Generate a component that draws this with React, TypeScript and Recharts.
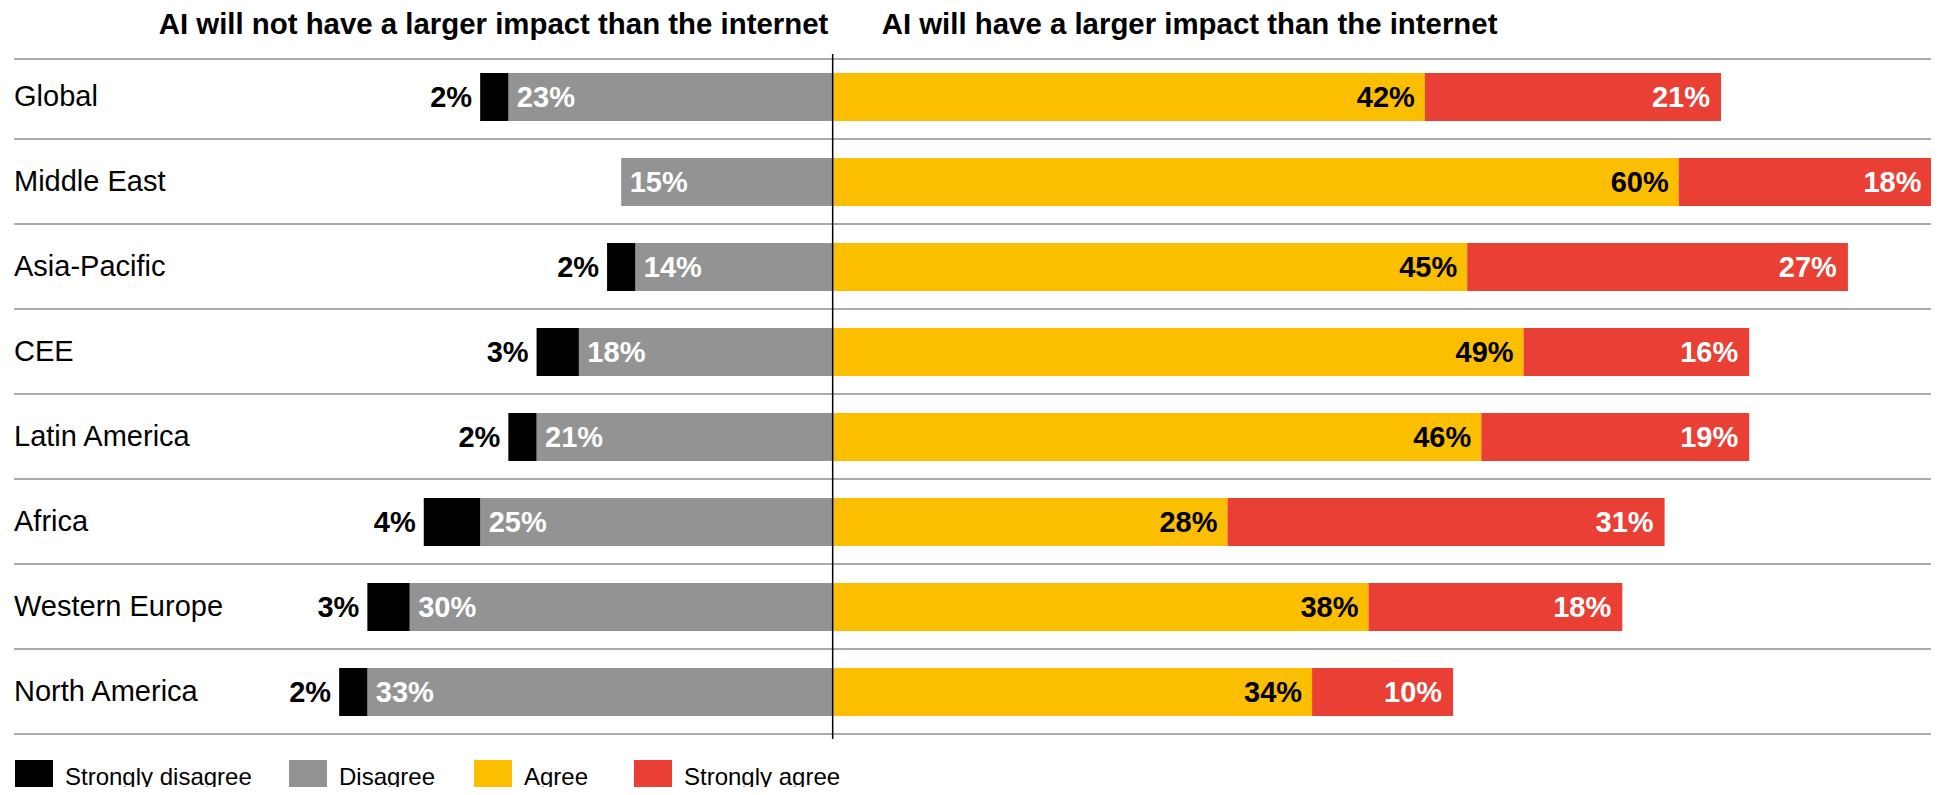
import React from "react";
import { BarChart, Bar, XAxis, YAxis, CartesianGrid, ReferenceLine, LabelList, Legend } from "recharts";

const regions = ["Global", "Middle East", "Asia-Pacific", "CEE", "Latin America", "Africa", "Western Europe", "North America"];
const stronglyDisagree = [2, 0, 2, 3, 2, 4, 3, 2];
const disagree = [23, 15, 14, 18, 21, 25, 30, 33];
const agree = [42, 60, 45, 49, 46, 28, 38, 34];
const stronglyAgree = [21, 18, 27, 16, 19, 31, 18, 10];

const leftTitle = "AI will not have a larger impact than the internet";
const rightTitle = "AI will have a larger impact than the internet";

const legendItems = [
  { name: "Strongly disagree", color: "#000000", width: 274 },
  { name: "Disagree", color: "#939393", width: 185 },
  { name: "Agree", color: "#FBBE00", width: 160 },
  { name: "Strongly agree", color: "#E93F35", width: 200 },
];

const FONT = '"Liberation Sans", Arial, Helvetica, sans-serif';
const LABEL_SIZE = 29;
const ROW_SIZE = 29;
const TITLE_SIZE = 29.4;

// left side is drawn as negative values so the stack diverges from 0
const data = regions.map((region, i) => ({
  region,
  stronglyDisagree: -stronglyDisagree[i],
  disagree: -disagree[i],
  agree: agree[i],
  stronglyAgree: stronglyAgree[i],
}));

const makeLabel = (side: "outsideLeft" | "insideLeft" | "insideRight", color: string, gap: number) => (props: any) => {
  const { x, y, width, height, value } = props;
  if (!value) return null;
  const x0 = Number(x);
  const w = Number(width);
  const left = Math.min(x0, x0 + w);
  const right = Math.max(x0, x0 + w);
  const cy = Number(y) + Number(height) / 2;
  let tx = right - gap;
  let anchor: "start" | "end" = "end";
  if (side === "outsideLeft") {
    tx = left - gap;
  } else if (side === "insideLeft") {
    tx = left + gap;
    anchor = "start";
  }
  return (
    <text x={tx} y={cy + 0.355 * LABEL_SIZE} textAnchor={anchor} fill={color} fontFamily={FONT} fontWeight="bold" fontSize={LABEL_SIZE}>
      {Math.abs(value)}%
    </text>
  );
};

const RegionTick = (props: any) => {
  const { x, y, payload } = props;
  return (
    <text x={x} y={Number(y) - 1 + 0.355 * ROW_SIZE} textAnchor="start" fill="#000" fontFamily={FONT} fontSize={ROW_SIZE}>
      {payload.value}
    </text>
  );
};

const CenterLine = (p: any) => (
  <line x1={p.x1} y1={Number(p.y1) + 5} x2={p.x2} y2={p.y2} stroke="#000" strokeWidth={1.5} />
);

const LegendContent = () => (
  <div style={{ display: "flex", fontFamily: FONT, fontSize: 24, color: "#000" }}>
    {legendItems.map((item) => (
      <div key={item.name} style={{ display: "flex", alignItems: "flex-start", width: item.width, flex: "none" }}>
        <div style={{ width: 38, height: 38, background: item.color, flex: "none" }} />
        <span style={{ marginLeft: 12, lineHeight: "34px", whiteSpace: "nowrap" }}>{item.name}</span>
      </div>
    ))}
  </div>
);

const titleStyle: React.CSSProperties = {
  position: "absolute",
  top: 1,
  fontFamily: FONT,
  fontWeight: "bold",
  fontSize: TITLE_SIZE,
  lineHeight: "30px",
  whiteSpace: "nowrap",
  color: "#000",
};

export default function App() {
  return (
    <div style={{ position: "relative", width: 1931, height: 787, overflow: "hidden", marginBottom: -8 }}>
      <BarChart
        width={1931}
        height={787}
        data={data}
        layout="vertical"
        stackOffset="sign"
        barSize={48}
        margin={{ top: 46, right: 0, bottom: 61, left: 5 }}
      >
        <CartesianGrid
          vertical={false}
          stroke="#ababab"
          strokeWidth={2}
          horizontalCoordinatesGenerator={({ offset }: any) => {
            const h = offset.height / regions.length;
            return [offset.top + 5, ...regions.map((_, i) => offset.top + h * (i + 1))];
          }}
        />
        <XAxis type="number" domain={[-58.06, 78.46]} allowDataOverflow hide />
        <YAxis
          type="category"
          dataKey="region"
          width={1}
          axisLine={false}
          tickLine={false}
          tickSize={0}
          tickMargin={0}
          interval={0}
          tick={RegionTick}
        />
        <Bar dataKey="disagree" name="Disagree" stackId="a" fill="#939393" isAnimationActive={false}>
          <LabelList dataKey="disagree" content={makeLabel("insideLeft", "#ffffff", 8.5)} />
        </Bar>
        <Bar dataKey="stronglyDisagree" name="Strongly disagree" stackId="a" fill="#000000" isAnimationActive={false}>
          <LabelList dataKey="stronglyDisagree" content={makeLabel("outsideLeft", "#000000", 8)} />
        </Bar>
        <Bar dataKey="agree" name="Agree" stackId="a" fill="#FBBE00" isAnimationActive={false}>
          <LabelList dataKey="agree" content={makeLabel("insideRight", "#000000", 10)} />
        </Bar>
        <Bar dataKey="stronglyAgree" name="Strongly agree" stackId="a" fill="#E93F35" isAnimationActive={false}>
          <LabelList dataKey="stronglyAgree" content={makeLabel("insideRight", "#ffffff", 11)} />
        </Bar>
        <ReferenceLine x={0} stroke="#000" strokeWidth={1.5} shape={CenterLine} />
        <Legend
          layout="horizontal"
          verticalAlign="middle"
          align="center"
          wrapperStyle={{ top: 752, left: 7, width: 1000, height: 40 }}
          content={LegendContent}
        />
      </BarChart>
      <div style={{ ...titleStyle, right: 1110.7 }}>{leftTitle}</div>
      <div style={{ ...titleStyle, left: 873.7 }}>{rightTitle}</div>
    </div>
  );
}
